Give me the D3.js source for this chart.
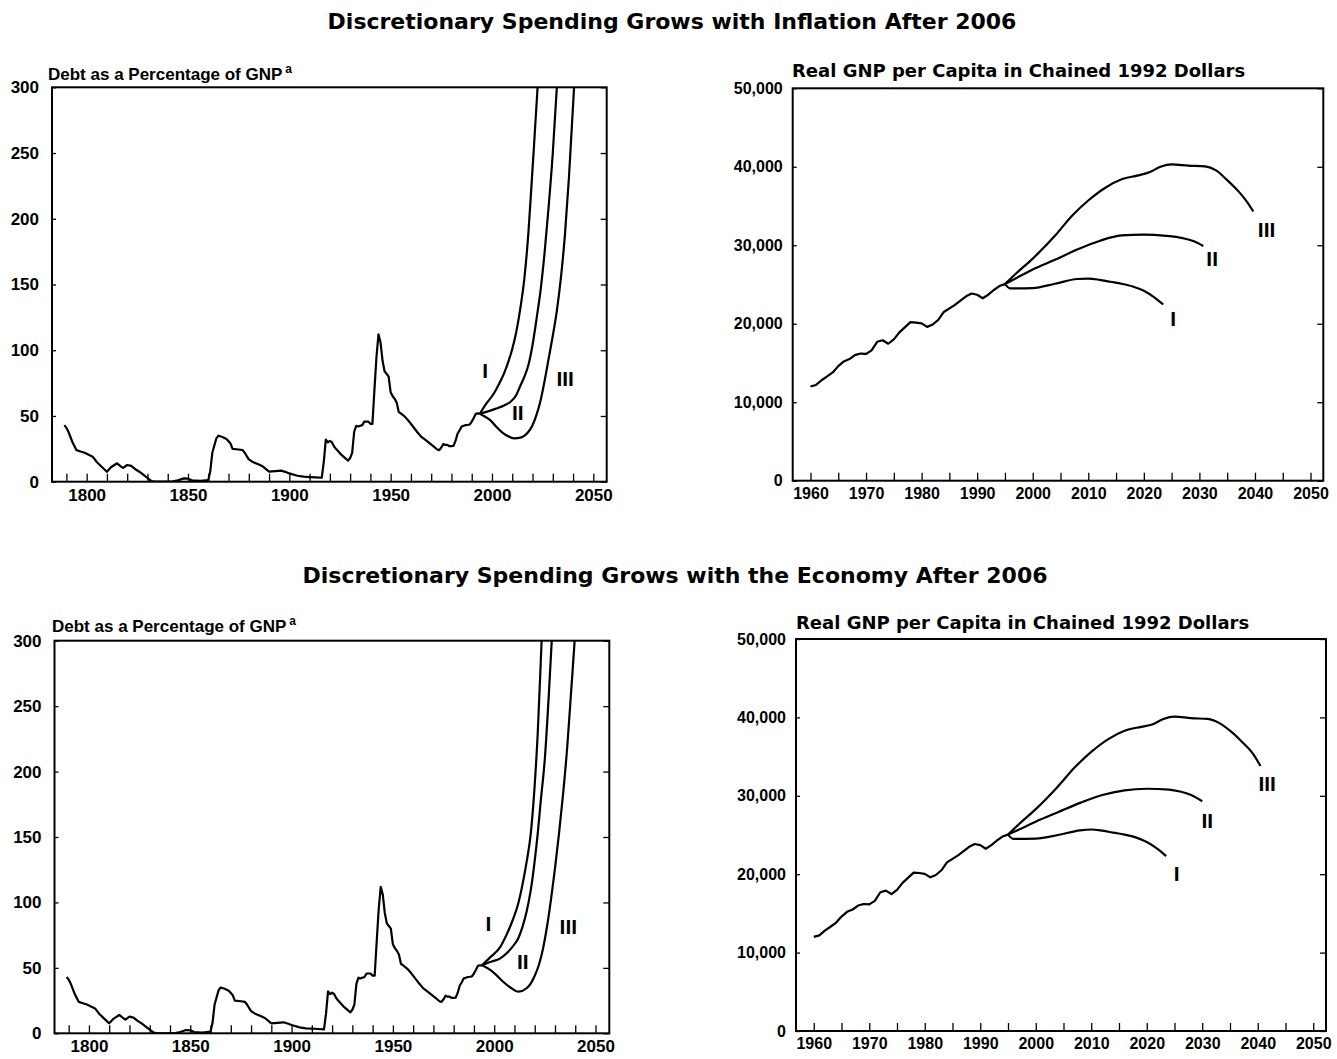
<!DOCTYPE html>
<html>
<head>
<meta charset="utf-8">
<script src="https://cdn.jsdelivr.net/npm/d3@7"></script>
<style>
body { margin: 0; background: #fff; }
svg text { font-family: "Liberation Sans", Arial, sans-serif; font-weight: bold; fill: #000; }
.title { font-family: "DejaVu Sans", sans-serif; font-size: 22px; }
.subL { font-size: 17px; }
.subR { font-family: "DejaVu Sans", sans-serif; font-size: 18px; }
.tickL text { font-size: 17px; }
.tickR text { font-size: 16px; }
.roman { font-size: 21px; }
</style>
</head>
<body>
<svg id="chart" width="1337" height="1059"></svg>
<script>
// ---- debt history (percent of GNP), shared by both left panels
const debtHistYears = [1789,1790,1791,1793,1795,1797,1799,1801,1803,1805,1807,1810,1812,1815,1817,1818,1820,1822,1824,1826,1829,1832,1834,1842,1845,1848,1850,1852,1856,1860,1861,1862,1864,1865,1867,1869,1871,1872,1875,1877,1878,1880,1882,1885,1887,1890,1893,1896,1898,1900,1904,1907,1910,1913,1916,1917,1918,1919,1920,1921,1922,1923,1926,1929,1930,1931,1932,1933,1934,1936,1937,1939,1940,1941,1942,1943,1944,1945,1946,1947,1948,1949,1950,1951,1952,1953,1954,1955,1957,1959,1961,1963,1965,1967,1969,1971,1973,1974,1975,1976,1977,1978,1979,1980,1981,1982,1983,1984,1985,1986,1987,1988,1989,1990,1991,1992,1993,1994];
const debtHist = [43,41,38,30,24,23,22,20.5,19,15,12,7.6,11,14,11.5,10.5,12.7,12,9.5,7.6,4,0.5,0,0,1,2.5,2.3,1,0.6,1.3,8,22,33,35,34,32.5,29,25,24.5,24,22,17,15,13,11.5,7.6,8,8.4,7.5,6.3,4.5,3.8,3.5,3.3,3,15,32,30,31,30,27,25,20,16,18,22,38,42.5,42,43,45.7,45.7,44,44,70,95,112,106,92,84,82,80,68,65,63,60,53,52,49.5,46,42,38,34.3,32,29.5,27,24.5,24,26,28.7,28,28,27,27,27.2,31,36.5,39,42,42.5,43,43.2,43.5,45.7,48.5,51.6,52,51.6];

// ---- projections, discretionary spending grows with inflation (top left)
const inflYearsI = [1994,1997,2000,2002,2004,2006,2008,2010,2012,2014,2016,2018,2020,2022.5,2024];
const inflDebtI = [51.6,59,65,70,76,82.6,91,101,114,132,155,190,238,300,345];
const inflYearsII = [1994,1998,2002,2006,2009,2012,2014,2016,2018,2020,2022,2024,2026,2028,2030,2032,2033];
const inflDebtII = [51.6,53.5,55.6,58,60.6,66,73,80,89,104,124,146,175,210,250,300,330];
const inflYearsIII = [1994,1996,1999,2002,2005,2008,2011,2014,2016,2018,2020,2022,2024,2026,2028,2030,2032,2034,2036,2038,2040.5,2042];
const inflDebtIII = [51.6,50,47,42,37.5,34.5,33,33.5,35,38,43,51,62,77,94,111,130,155,188,232,300,345];

// ---- projections, discretionary spending grows with the economy (bottom left)
const econYearsI = [1994,1998,2003,2006,2009,2012,2014,2016,2018,2020,2021.5,2023.4,2024.5];
const econDebtI = [52,58,66,75,86,100,114,131,152,190,230,300,340];
const econYearsII = [1994,1998,2003,2006,2009,2012,2014,2016,2018,2020,2021.5,2023,2025,2027,2028.4,2029.5];
const econDebtII = [52,54.5,57.3,61,66,73,81.5,93,109,132,153,178,210,260,300,335];
const econYearsIII = [1994,1998,2001,2004,2008,2012,2016,2018,2020,2022,2024,2026,2028,2030,2032,2034,2036,2038,2039.7,2041];
const econDebtIII = [52,48.5,44.6,40,35,31.8,34.4,38,44,52,64,81,102,126,153,183,218,262,300,335];

// ---- real GNP per capita history (chained 1992 dollars)
const gnpHistYears = [1960,1961,1962,1963,1964,1965,1966,1967,1968,1969,1970,1971,1972,1973,1974,1975,1976,1978,1979,1980,1981,1982,1983,1984,1986,1988,1989,1990,1991,1992,1993,1994,1995];
const gnpHist = [12000,12200,12800,13300,13800,14600,15200,15500,16000,16200,16150,16600,17700,17900,17450,18000,18900,20200,20150,20050,19600,19900,20500,21500,22400,23500,23850,23700,23250,23700,24300,24800,25050];

const inflGnpYearsI = [1995,1996,2000,2004,2008,2010,2012,2014,2016,2018,2020,2022,2023.5];
const inflGnpI = [25050,24500,24550,25100,25700,25750,25600,25350,25100,24750,24200,23300,22450];
const inflGnpYearsII = [1995,1997,2000,2004,2008,2012,2016,2020,2024,2027,2029,2030.7];
const inflGnpII = [25050,25800,26900,28150,29450,30550,31250,31350,31200,30900,30500,29900];
const inflGnpYearsIII = [1995,1997,2000,2004,2007,2010,2013,2016,2019,2021,2023,2025,2028,2031,2033,2035,2037,2038.5,2039.7];
const inflGnpIII = [25050,26400,28300,31200,33700,35700,37300,38400,38900,39300,40000,40300,40150,40050,39550,38300,36900,35600,34300];

const econGnpYearsI = [1995,1996,2000,2004,2008,2010,2012,2014,2016,2018,2020,2022,2023.5];
const econGnpI = [25050,24500,24550,25000,25600,25700,25550,25300,25050,24700,24100,23200,22300];
const econGnpYearsII = [1995,1997,2000,2004,2008,2012,2016,2020,2024,2026,2028,2030];
const econGnpII = [25050,25700,26700,27900,29100,30100,30700,30900,30800,30550,30100,29300];
const econGnpYearsIII = [1995,1997,2000,2004,2007,2010,2013,2016,2019,2021,2023,2025,2028,2031,2033,2035,2037,2039,2040.5];
const econGnpIII = [25050,26400,28300,31200,33600,35600,37200,38300,38800,39100,39800,40100,39900,39800,39300,38300,37000,35500,33800];

// ---- axis ticks and labels
const debtYearTicks = d3.range(1790, 2051, 10);
const debtYearLabels = [1800, 1850, 1900, 1950, 2000, 2050];
const debtValueTicks = [0, 50, 100, 150, 200, 250, 300];
const gnpYearTicks = d3.range(1960, 2051, 5);
const gnpYearLabels = d3.range(1960, 2051, 10);
const gnpValueTicks = [0, 10000, 20000, 30000, 40000, 50000];

const scenarioNames = ["I", "II", "III"];
// label anchor points (year, value) per panel
const inflDebtLabelYears = [1996.6, 2012.7, 2036.1], inflDebtLabelVals = [85, 53, 78.6];
const econDebtLabelYears = [1997.1, 2014.1, 2036.6], econDebtLabelVals = [84, 54.7, 81.5];
const inflGnpLabelYears = [2025.3, 2032.3, 2042.1], inflGnpLabelVals = [20690, 28340, 32070];
const econGnpLabelYears = [2025.4, 2030.9, 2041.7], econGnpLabelVals = [20150, 26910, 31630];

const titles = ["Discretionary Spending Grows with Inflation After 2006",
                "Discretionary Spending Grows with the Economy After 2006"];

const svg = d3.select("#chart");
const fmtComma = d3.format(",");
let clipId = 0;

function drawPanel(p) {
    const x = d3.scaleLinear().domain(p.xDomain).range([p.left, p.right]);
    const y = d3.scaleLinear().domain(p.yDomain).range([p.bottom, p.top]);
    const g = svg.append("g");
    const cls = p.right < 700 ? "tickL" : "tickR";

    const id = "clip" + (clipId++);
    g.append("clipPath").attr("id", id).append("rect")
        .attr("x", p.left).attr("y", p.top)
        .attr("width", p.right - p.left).attr("height", p.bottom - p.top);

    // bottom axis, ticks pointing inward
    const xa = g.append("g").attr("class", cls)
        .attr("transform", `translate(0,${p.bottom})`)
        .call(d3.axisBottom(x).tickValues(p.xTicks).tickSizeInner(-8).tickSizeOuter(0)
            .tickPadding(7).tickFormat(d => p.xLabels.includes(d) ? d : ""));
    // left axis
    const ya = g.append("g").attr("class", cls)
        .attr("transform", `translate(${p.left},0)`)
        .call(d3.axisLeft(y).tickValues(p.yTicks).tickSizeInner(-4).tickSizeOuter(0)
            .tickPadding(p.yPad).tickFormat(p.yFormat));
    // right axis, ticks only
    const yr = g.append("g")
        .attr("transform", `translate(${p.right},0)`)
        .call(d3.axisRight(y).tickValues(p.yTicks).tickSizeInner(-6).tickSizeOuter(0).tickFormat(""));
    [xa, ya, yr].forEach(a => {
        a.attr("font-family", null).attr("font-size", null);
        a.select(".domain").remove();
        a.selectAll("line").attr("stroke", "#000").attr("stroke-width", 1.3);
    });

    // frame
    g.append("rect")
        .attr("x", p.left).attr("y", p.top)
        .attr("width", p.right - p.left).attr("height", p.bottom - p.top)
        .attr("fill", "none").attr("stroke", "#000").attr("stroke-width", 2);

    const plot = g.append("g").attr("clip-path", `url(#${id})`);
    const lineLin = d3.line().x(d => x(d[0])).y(d => y(d[1]));
    const lineSmooth = d3.line().x(d => x(d[0])).y(d => y(d[1])).curve(d3.curveMonotoneX);

    plot.append("path")
        .datum(d3.zip(p.histX, p.histY))
        .attr("d", lineLin)
        .attr("fill", "none").attr("stroke", "#000").attr("stroke-width", 2.2)
        .attr("stroke-linejoin", "round");

    p.proj.forEach(s => {
        plot.append("path")
            .datum(d3.zip(s[0], s[1]))
            .attr("d", lineSmooth)
            .attr("fill", "none").attr("stroke", "#000").attr("stroke-width", 2.2);
    });

    g.selectAll("text.roman")
        .data(d3.zip(p.labelX, p.labelY, scenarioNames))
        .enter().append("text")
        .attr("class", "roman")
        .attr("x", d => x(d[0])).attr("y", d => y(d[1]))
        .attr("text-anchor", "middle").attr("dy", "0.36em")
        .text(d => d[2]);

    const st = g.append("text").attr("class", p.subClass)
        .attr("x", p.subX).attr("y", p.subY).text(p.subtitle);
    if (p.superscript) {
        st.append("tspan").attr("dx", 3).attr("dy", -7)
            .attr("font-size", 12).text(p.superscript);
    }
}

// titles
svg.append("text").attr("class", "title").attr("x", 672).attr("y", 29)
    .attr("text-anchor", "middle").text(titles[0]);
svg.append("text").attr("class", "title").attr("x", 675).attr("y", 583)
    .attr("text-anchor", "middle").text(titles[1]);

const debtPanel = {
    xTicks: debtYearTicks, xLabels: debtYearLabels, yDomain: [0, 300],
    yTicks: debtValueTicks, yFormat: d => d, yPad: 13,
    histX: debtHistYears, histY: debtHist,
    subtitle: "Debt as a Percentage of GNP", superscript: "a", subClass: "subL"
};
const gnpPanel = {
    xTicks: gnpYearTicks, xLabels: gnpYearLabels, yDomain: [0, 50000],
    yTicks: gnpValueTicks, yFormat: d => fmtComma(d), yPad: 10,
    histX: gnpHistYears, histY: gnpHist,
    subtitle: "Real GNP per Capita in Chained 1992 Dollars", subClass: "subR"
};

drawPanel(Object.assign({}, debtPanel, {
    left: 52, right: 606.7, top: 87.3, bottom: 481.7, xDomain: [1782.9, 2056.6],
    proj: [[inflYearsI, inflDebtI], [inflYearsII, inflDebtII], [inflYearsIII, inflDebtIII]],
    labelX: inflDebtLabelYears, labelY: inflDebtLabelVals, subX: 48, subY: 80
}));
drawPanel(Object.assign({}, gnpPanel, {
    left: 792.7, right: 1323.3, top: 88.3, bottom: 480.7, xDomain: [1956.8, 2052.3],
    proj: [[inflGnpYearsI, inflGnpI], [inflGnpYearsII, inflGnpII], [inflGnpYearsIII, inflGnpIII]],
    labelX: inflGnpLabelYears, labelY: inflGnpLabelVals, subX: 792, subY: 77
}));
drawPanel(Object.assign({}, debtPanel, {
    left: 54.5, right: 609.3, top: 640.7, bottom: 1033.3, xDomain: [1783, 2056.8],
    proj: [[econYearsI, econDebtI], [econYearsII, econDebtII], [econYearsIII, econDebtIII]],
    labelX: econDebtLabelYears, labelY: econDebtLabelVals, subX: 52, subY: 632
}));
drawPanel(Object.assign({}, gnpPanel, {
    left: 796, right: 1326, top: 639, bottom: 1031, xDomain: [1956.8, 2052.3],
    proj: [[econGnpYearsI, econGnpI], [econGnpYearsII, econGnpII], [econGnpYearsIII, econGnpIII]],
    labelX: econGnpLabelYears, labelY: econGnpLabelVals, subX: 796, subY: 629
}));
</script>
</body>
</html>
